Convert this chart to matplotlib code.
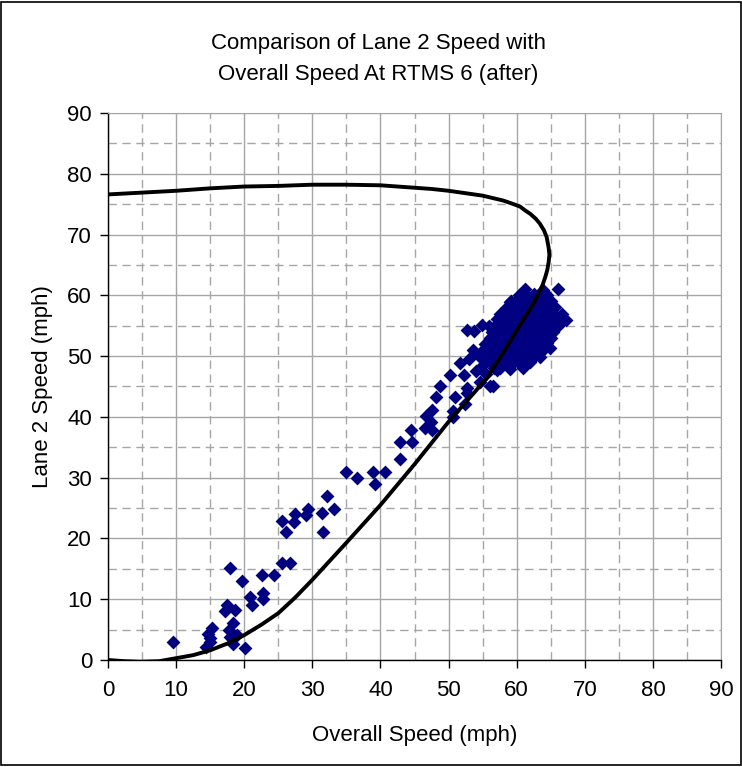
import matplotlib.pyplot as plt
from matplotlib.patches import Rectangle

# Scatter data - overall speed vs lane 2 speed (mph)
# Low / mid speed points
low_x = [9.5, 14.4, 14.9, 14.7, 15.2, 15.0, 17.2, 17.4, 18.6, 18.3, 17.7, 18.9,
         18.3, 17.9, 20.1, 17.9, 19.6, 20.9, 21.1, 22.7, 22.7, 22.6, 24.3, 25.5,
         26.7, 25.6, 26.2, 27.5, 27.3, 29.4, 29.1, 31.5, 31.4, 32.2, 33.2, 35.0,
         36.6, 38.9, 39.2, 40.7, 42.8, 42.9, 44.6, 44.5, 46.7, 46.5, 47.6, 47.4,
         47.6, 48.2, 48.8, 50.6, 50.7, 51.0, 52.4, 52.7, 52.7, 54.6, 56.5, 50.2,
         51.7, 52.2, 53.6, 54.5, 55.0, 54.0, 53.0, 55.5]
low_y = [2.9, 2.1, 3.0, 4.3, 5.2, 3.6, 8.1, 9.0, 8.2, 6.1, 4.9, 4.1,
         2.7, 3.8, 1.9, 15.1, 13.0, 10.3, 9.0, 11.1, 10.0, 14.0, 14.0, 15.9,
         15.9, 22.9, 21.1, 24.1, 22.7, 24.9, 23.8, 21.1, 24.2, 27.0, 24.8, 31.0,
         30.0, 31.0, 28.9, 31.0, 33.1, 35.9, 35.9, 37.8, 40.1, 38.1, 37.9, 39.2,
         41.1, 43.2, 45.0, 40.0, 41.0, 43.2, 42.1, 43.9, 44.7, 45.8, 45.0, 46.9,
         48.8, 46.9, 51.0, 50.0, 48.5, 47.5, 49.5, 47.0]

# Dense cluster around 55-67 mph
clu_x = [52.7, 53.8, 54.9, 59.0, 61.2, 63.9, 66.1, 67.3, 57.1, 56.1, 59.5, 62.2, 64.9,
         60.4, 61.6, 62.5, 63.6, 64.4,
         59.2, 60.1, 61.0, 62.1, 63.0, 64.1, 65.0,
         58.4, 59.6, 60.5, 61.4, 62.6, 63.5, 64.4, 65.6,
         57.6, 58.4, 59.5, 60.6, 61.5, 62.4, 63.6, 64.5, 65.4, 66.6,
         57.1, 58.0, 58.9, 60.1, 61.0, 62.0, 63.1, 64.0, 64.9, 66.0, 66.8,
         56.0, 57.1, 58.0, 59.0, 60.1, 61.0, 61.9, 63.0, 64.1, 65.0, 66.1,
         56.4, 57.6, 58.5, 59.4, 60.6, 61.5, 62.4, 63.5, 64.6, 65.4,
         56.1, 56.9, 58.0, 59.1, 60.0, 60.9, 62.1, 63.0, 63.9, 65.1,
         55.4, 56.6, 57.5, 58.4, 59.6, 60.5, 61.4, 62.6, 63.5, 64.4,
         55.1, 56.0, 57.1, 58.0, 58.9, 60.1, 61.0, 62.0, 63.1, 63.9,
         55.6, 56.5, 57.4, 58.6, 59.5, 60.4, 61.6, 62.5, 63.4,
         56.1, 57.0, 58.1, 59.0, 60.0, 61.1, 62.0,
         56.6, 57.5, 59.0, 61.0]
clu_y = [54.3, 54.1, 55.1, 58.9, 61.1, 60.9, 61.1, 55.9, 47.7, 45.0, 48.8, 49.6, 51.3,
         60.1, 59.8, 60.2, 59.9, 60.1,
         59.0, 59.2, 58.9, 59.1, 58.8, 59.2, 59.0,
         57.9, 58.1, 58.0, 57.8, 58.2, 58.0, 57.9, 58.1,
         57.0, 56.8, 57.1, 57.0, 56.9, 57.2, 57.0, 56.8, 57.1, 57.0,
         56.1, 55.9, 56.0, 56.2, 55.9, 56.0, 56.1, 55.8, 56.0, 56.1, 55.9,
         55.0, 55.2, 54.9, 55.1, 55.0, 54.8, 55.1, 55.0, 55.2, 54.9, 55.0,
         54.0, 54.1, 53.9, 54.0, 54.2, 53.9, 54.0, 54.1, 53.8, 54.0,
         53.0, 53.1, 52.9, 53.0, 53.2, 52.9, 53.0, 53.1, 52.8, 53.0,
         52.0, 51.9, 52.1, 52.0, 51.8, 52.0, 52.2, 51.9, 52.0, 52.1,
         51.0, 51.1, 50.9, 51.0, 51.2, 50.9, 51.0, 51.1, 50.8, 51.0,
         50.0, 50.1, 49.9, 50.0, 50.2, 49.9, 50.0, 50.1, 49.8,
         49.0, 49.1, 48.9, 49.0, 49.2, 48.9, 49.0,
         48.0, 48.1, 47.9, 48.0]

# Fitted model curve
curve_x = [0, 2.5, 4.7, 7.5, 10, 12.5, 15, 17.5, 20, 22.5, 25, 27.5, 30, 35, 40,
           45, 50, 55.5, 58, 60, 61, 62, 62.7, 63.3, 63.8, 64.2, 64.5, 64.7,
           64.8, 64.7, 64.4, 64.0, 63.4, 62.8, 62, 61.2, 60.5, 59.3, 58, 56.5,
           55, 52.5, 50, 47.5, 45, 40, 35, 30, 25, 20, 15, 10, 5, 0]
curve_y = [0, -0.2, -0.3, -0.2, 0.3, 0.8, 1.6, 2.7, 4.1, 5.8, 7.7, 10.3, 13.2,
           19.3, 25.5, 32.2, 39.2, 46.2, 50.5, 54.2, 56.0, 57.8, 59.1, 60.5,
           61.7, 63.0, 64.2, 65.5, 66.7, 67.8, 69.6, 70.7, 71.8, 72.6, 73.4,
           74.0, 74.6, 75.1, 75.6, 76.0, 76.4, 76.8, 77.2, 77.5, 77.7, 78.1,
           78.2, 78.2, 78.0, 77.9, 77.6, 77.2, 76.9, 76.6]

plt.rcParams['font.family'] = ['Liberation Sans', 'DejaVu Sans']

fig = plt.figure(figsize=(7.42, 7.67), dpi=100)
ax = fig.add_axes([0.1456, 0.1395, 0.8261, 0.7132])

# Gridlines - solid major, dashed minor
ax.set_xticks(range(0, 91, 10))
ax.set_yticks(range(0, 91, 10))
ax.set_xticks(range(5, 90, 10), minor=True)
ax.set_yticks(range(5, 90, 10), minor=True)
ax.grid(True, which='major', color='#a6a6a6', linewidth=1.0, linestyle='-')
ax.grid(True, which='minor', color='#a6a6a6', linewidth=1.0, linestyle=(0, (6, 4)))
ax.set_axisbelow(True)

ax.scatter(low_x + clu_x, low_y + clu_y, marker='D', s=50, color='#000080',
           linewidths=0, zorder=2)
ax.plot(curve_x, curve_y, color='black', linewidth=2.8, zorder=3,
        solid_capstyle='round', solid_joinstyle='round')

ax.set_xlim(0, 90)
ax.set_ylim(0, 90)
ax.tick_params(which='major', direction='out', length=5.5, width=1, labelsize=16)
ax.tick_params(axis='x', which='major', pad=9)
ax.tick_params(axis='y', which='major', pad=6)
ax.tick_params(which='minor', length=0)
for side in ['top', 'right']:
    ax.spines[side].set_color('#a6a6a6')
for side in ['left', 'bottom']:
    ax.spines[side].set_linewidth(1.0)

ax.set_xlabel('Overall Speed (mph)', fontsize=16, labelpad=17)
ax.set_ylabel('Lane 2 Speed (mph)', fontsize=16, labelpad=10)
fig.text(0.51, 0.923, 'Comparison of Lane 2 Speed with\nOverall Speed At RTMS 6 (after)',
         ha='center', va='center', fontsize=16, linespacing=1.6)

# Outer chart border
fig.patches.append(Rectangle((0.002, 0.002), 0.996, 0.996, transform=fig.transFigure,
                             fill=False, edgecolor='black', linewidth=1.2))

plt.savefig('out.png', dpi=100)
